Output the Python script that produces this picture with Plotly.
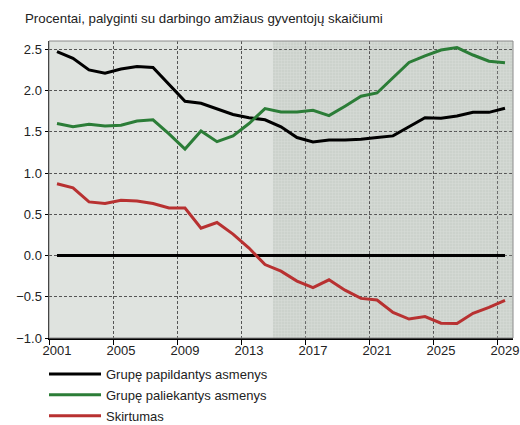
import plotly.graph_objects as go

years = list(range(2001, 2030))
papildantys = [2.47, 2.39, 2.25, 2.21, 2.26, 2.29, 2.28, 2.07, 1.87, 1.845, 1.78, 1.71, 1.67, 1.645,
               1.56, 1.43, 1.375, 1.40, 1.40, 1.41, 1.43, 1.45, 1.56, 1.67, 1.665, 1.69, 1.735, 1.735, 1.785]
paliekantys = [1.60, 1.56, 1.59, 1.57, 1.58, 1.63, 1.645, 1.475, 1.29, 1.51, 1.38, 1.45, 1.60, 1.78,
               1.74, 1.74, 1.76, 1.695, 1.81, 1.93, 1.97, 2.16, 2.34, 2.42, 2.49, 2.52, 2.43, 2.355, 2.335]
skirtumas = [0.87, 0.82, 0.65, 0.63, 0.67, 0.66, 0.63, 0.575, 0.575, 0.33, 0.40, 0.26, 0.09, -0.11,
             -0.19, -0.31, -0.39, -0.295, -0.42, -0.52, -0.54, -0.69, -0.77, -0.74, -0.82, -0.825, -0.70, -0.63, -0.545]
zero_line = [0.0] * len(years)
forecast_start = 2015
x_labels = [2001, 2005, 2009, 2013, 2017, 2021, 2025, 2029]
y_ticks = [-1.0, -0.5, 0.0, 0.5, 1.0, 1.5, 2.0, 2.5]
names = ["Grupę papildantys asmenys", "Grupę paliekantys asmenys", "Skirtumas"]
colors = ["#000000", "#2b7d37", "#b83131"]
title = "Procentai, palyginti su darbingo amžiaus gyventojų skaičiumi"

FONT = "Liberation Sans, Arial, sans-serif"
W, H = 520, 425
ML, MR, MT, MB = 49, 7, 41, 87
xmin, xmax = years[0] - 0.5, years[-1] + 0.5
ymin, ymax = -1.0, 2.6

fig = go.Figure()

# forecast texture
fig.add_trace(go.Bar(
    x=[(forecast_start - 0.5 + xmax) / 2], y=[ymax - ymin], base=[ymin],
    width=[xmax - (forecast_start - 0.5)],
    marker=dict(color="rgba(0,0,0,0)", line=dict(width=0),
                pattern=dict(shape="+", size=3, solidity=0.3,
                             fgcolor="rgba(255,255,255,0.5)", bgcolor="rgba(0,0,0,0)")),
    showlegend=False, hoverinfo="skip"))

fig.add_trace(go.Scatter(x=years, y=zero_line, mode="lines",
                         line=dict(color="#000000", width=3), showlegend=False, hoverinfo="skip"))
for i, ser in enumerate([papildantys, paliekantys, skirtumas]):
    fig.add_trace(go.Scatter(x=years, y=ser, mode="lines", name=names[i], legendgroup=f"g{i}",
                             line=dict(color=colors[i], width=3)))

fig.add_shape(type="rect", xref="x", yref="y", x0=forecast_start - 0.5, x1=xmax, y0=ymin, y1=ymax,
              fillcolor="#ccd2cc", line=dict(width=0), layer="below")
fig.add_shape(type="rect", xref="paper", yref="paper", x0=0, x1=1, y0=0, y1=1,
              fillcolor="rgba(0,0,0,0)", line=dict(color="#8a8a8a", width=1), layer="above")

fig.update_layout(
    width=W, height=H,
    margin=dict(l=ML, r=MR, t=MT, b=MB, autoexpand=False),
    paper_bgcolor="white", plot_bgcolor="#dfe3df",
    font=dict(family=FONT, size=13, color="#222222"),
    barmode="overlay", bargap=0,
    showlegend=True,
    legend=dict(xref="container", yref="container", x=44 / W, xanchor="left",
                y=1 - 359 / H, yanchor="top", bgcolor="rgba(0,0,0,0)",
                font=dict(family=FONT, size=13, color="#222222"), itemwidth=52,
                tracegroupgap=1),
)
fig.add_annotation(text=title, xref="paper", yref="paper", showarrow=False,
                   x=(23 - ML) / (W - ML - MR), xanchor="left",
                   y=(H - MB - 18) / (H - MT - MB), yanchor="middle",
                   font=dict(family=FONT, size=13.3, color="#222222"))
fig.update_xaxes(range=[xmin, xmax], tickvals=x_labels, ticktext=[str(v) for v in x_labels],
                 showgrid=False, zeroline=False, ticks="", automargin=False,
                 showline=True, linecolor="#000000", linewidth=1.5,
                 minor=dict(tick0=xmin, dtick=4, showgrid=True, gridcolor="#555555", griddash="3px,2px",
                            gridwidth=1, ticks="outside", ticklen=5, tickcolor="#000000"))
fig.update_yaxes(range=[ymin, ymax], tickvals=y_ticks, tickformat=".1f", automargin=False,
                 showgrid=True, gridcolor="#555555", griddash="3px,2px", gridwidth=1,
                 zeroline=False, ticks="outside", ticklen=3, tickcolor="#000000",
                 showline=True, linecolor="#000000", linewidth=1.5)

fig.write_html("out.html", config={"displayModeBar": False, "staticPlot": True},
               post_script="document.body.style.margin='0px';document.body.style.overflow='hidden';")
